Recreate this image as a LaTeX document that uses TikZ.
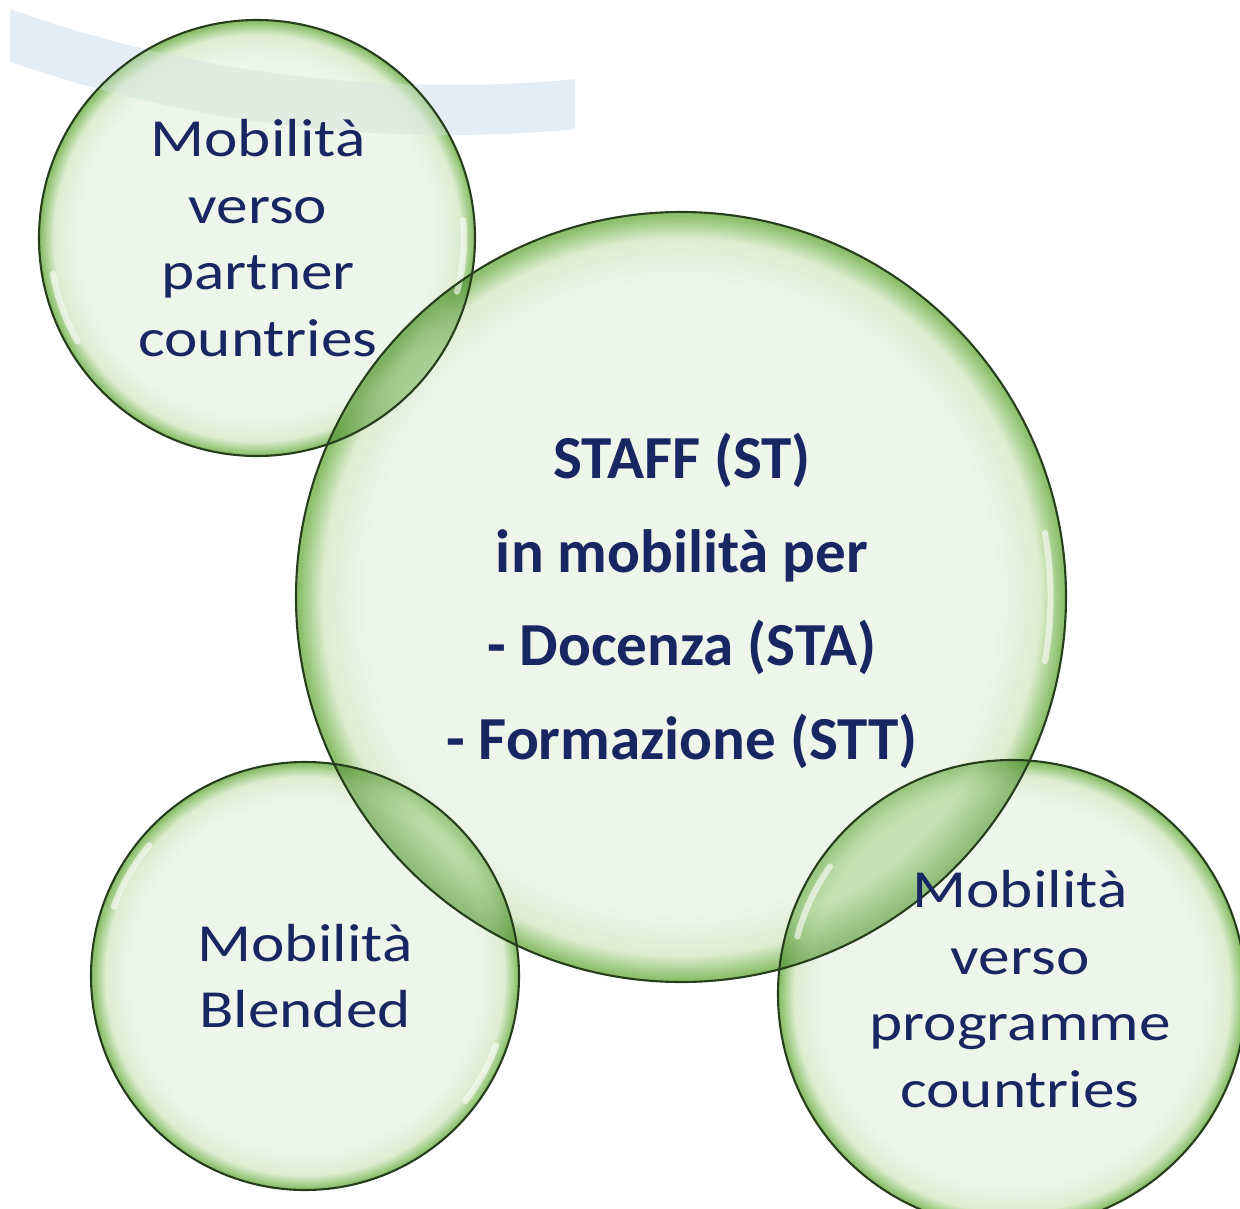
\documentclass[tikz,border=0pt]{standalone}
\usepackage{fontspec}
\setmainfont{Carlito}
\newfontfamily\bubfont[FakeStretch=1.18]{Carlito}
\usepackage{xcolor}
\usepackage{tikz}
\usetikzlibrary{positioning}
\usetikzlibrary{calc}

\definecolor{navy}{RGB}{24,38,98}
\definecolor{bubcore}{RGB}{238,245,234}
\definecolor{bubmid}{RGB}{220,237,208}
\definecolor{bubrim}{RGB}{140,192,108}
\definecolor{bubline}{RGB}{38,62,28}
\definecolor{lenscore}{RGB}{190,222,168}
\definecolor{lensrim}{RGB}{92,154,62}
\definecolor{arcblue}{RGB}{228,237,246}

\pgfdeclareradialshading{bubble}{\pgfpoint{0bp}{0bp}}{color(0bp)=(bubcore); color(20.5bp)=(bubcore); color(23.3bp)=(bubmid); color(24.8bp)=(bubrim); color(25bp)=(bubrim); color(50bp)=(bubrim)}
\pgfdeclareradialshading{lens}{\pgfpoint{0bp}{0bp}}{color(0bp)=(lenscore); color(16bp)=(lenscore); color(22bp)=(lenscore); color(24.7bp)=(lensrim); color(25bp)=(lensrim); color(50bp)=(lensrim)}

\tikzset{bubble/.style={shading=bubble}}
\tikzset{lensfill/.style={shading=lens, opacity=0.55}}
\tikzset{rimline/.style={draw=bubline, line width=1.2pt}}
\tikzset{gloss/.style={white, line width=3.5pt, line cap=round, opacity=0.6}}
\tikzset{bubtext/.style={text=navy, align=center, inner sep=0pt, font=\bubfont\fontsize{30.5}{38}\selectfont}}
\tikzset{bigtext/.style={text=navy, align=center, inner sep=0pt, font=\bfseries\fontsize{34.8}{53.3}\selectfont}}

\begin{document}
\begin{tikzpicture}[x=0.02cm, y=-0.02cm]
\def\Rp{218} % partner
\def\Rs{385} % staff
\def\Rb{214} % blended
\def\Rg{234} % programme

\useasboundingbox (0,0) rectangle (1240,1209);
\clip (0,0) rectangle (1240,1209);

\coordinate (cP) at (257,238);
\coordinate (cS) at (681,597);
\coordinate (cB) at (305,976);
\coordinate (cG) at (1012,994);

% pale band behind
\begin{scope}
\clip (10,0) rectangle (575,220);
\draw [arcblue, line width=1cm] (450,-1218) circle (1328);
\end{scope}

% bubbles
\shade [bubble] (cP) circle (\Rp);
\shade [bubble] (cS) circle (\Rs);
\shade [bubble] (cB) circle (\Rb);
\shade [bubble] (cG) circle (\Rg);

% band seen through the top bubble
\begin{scope}
\clip (10,0) rectangle (575,220);
\clip (cP) circle (\Rp);
\draw [arcblue!80!bubrim, line width=1cm, opacity=0.45] (450,-1218) circle (1328);
\end{scope}

% overlaps
\begin{scope}
\clip (cS) circle (\Rs);
\shade [lensfill] (cP) circle (\Rp);
\shade [lensfill] (cB) circle (\Rb);
\shade [lensfill] (cG) circle (\Rg);
\end{scope}
\begin{scope}
\clip (cP) circle (\Rp);
\shade [lensfill] (cS) circle (\Rs);
\end{scope}
\begin{scope}
\clip (cB) circle (\Rb);
\shade [lensfill] (cS) circle (\Rs);
\end{scope}
\begin{scope}
\clip (cG) circle (\Rg);
\shade [lensfill] (cS) circle (\Rs);
\end{scope}

% highlights
\draw [gloss] ($(cP)+(150:0.95*\Rp)$) arc [start angle=150, end angle=170, radius=0.95*\Rp];
\draw [gloss] ($(cP)+(-5:0.95*\Rp)$) arc [start angle=-5, end angle=15, radius=0.95*\Rp];
\draw [gloss] ($(cS)+(-10:0.96*\Rs)$) arc [start angle=-10, end angle=10, radius=0.96*\Rs];
\draw [gloss] ($(cB)+(200:0.95*\Rb)$) arc [start angle=200, end angle=220, radius=0.95*\Rb];
\draw [gloss] ($(cB)+(20:0.95*\Rb)$) arc [start angle=20, end angle=38, radius=0.95*\Rb];
\draw [gloss] ($(cG)+(195:0.95*\Rg)$) arc [start angle=195, end angle=215, radius=0.95*\Rg];

% outlines
\draw [rimline] (cP) circle (\Rp);
\draw [rimline] (cS) circle (\Rs);
\draw [rimline] (cB) circle (\Rb);
\draw [rimline] (cG) circle (\Rg);

\node[bubtext] (partner) at (258,238) {Mobilità\\verso\\partner\\countries};
\node[bigtext] (staff) at (682,601) {STAFF (ST)\\in mobilità per\\- Docenza (STA)\\- Formazione (STT)};
\node[bubtext] (blended) at (305,976) {Mobilità\\Blended};
\node[bubtext] (programme) at (1020,989) {Mobilità\\verso\\programme\\countries};
\end{tikzpicture}
\end{document}
